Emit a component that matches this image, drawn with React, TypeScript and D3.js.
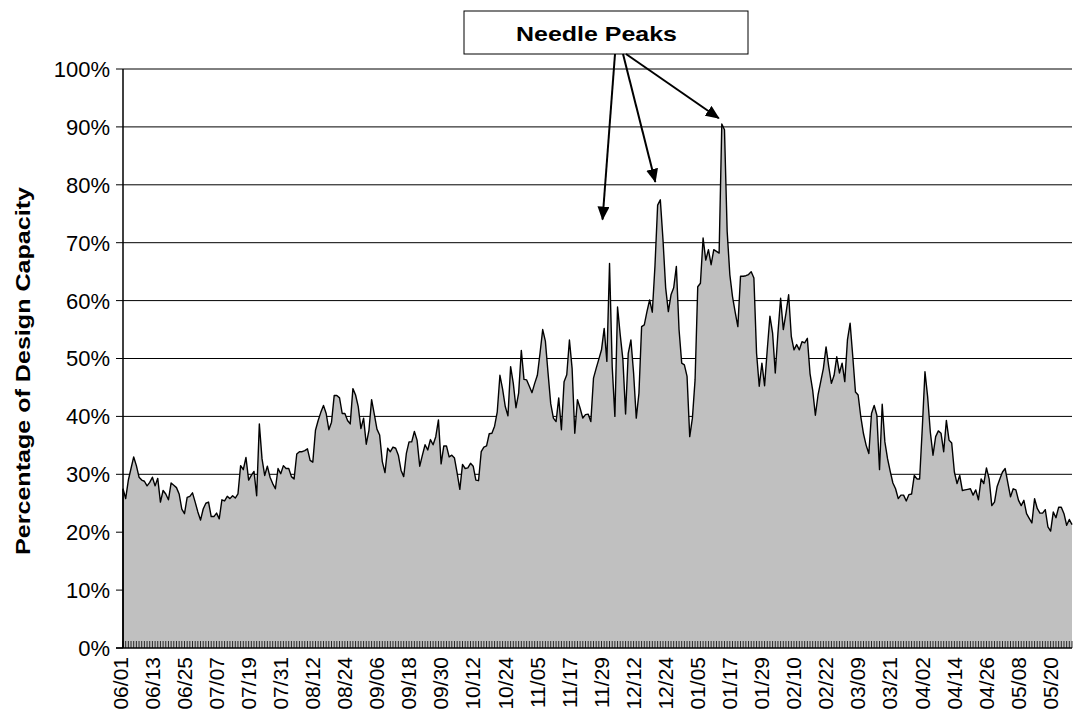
import React from "react";
import * as d3 from "d3";

const tickLabels = [
  "06/01", "06/13", "06/25", "07/07", "07/19", "07/31", "08/12", "08/24", "09/06", "09/18",
  "09/30", "10/12", "10/24", "11/05", "11/17", "11/29", "12/12", "12/24", "01/05", "01/17",
  "01/29", "02/10", "02/22", "03/09", "03/21", "04/02", "04/14", "04/26", "05/08", "05/20",
];
const labelEvery = 12;

// daily percentage of design capacity (356 days)
const capacity = [
  27.5, 25.8, 29.0, 31.0, 33.0, 31.5, 29.5, 29.0, 28.8, 28.0,
  28.6, 29.5, 28.0, 29.3, 25.2, 27.2, 26.6, 25.6, 28.5, 28.1,
  27.7, 26.6, 24.0, 23.2, 26.0, 26.2, 26.8, 25.2, 23.5, 22.1,
  24.0, 25.0, 25.2, 22.7, 22.7, 23.3, 22.3, 25.6, 25.4, 26.2,
  25.8, 26.3, 25.9, 26.6, 31.5, 30.8, 32.9, 29.0, 29.8, 30.5,
  26.3, 38.7, 32.7, 29.8, 31.4, 29.5, 28.4, 27.5, 31.0, 30.1,
  31.5, 31.0, 31.0, 29.6, 29.2, 33.5, 33.9, 33.9, 34.1, 34.4,
  32.4, 32.1, 37.6, 39.3, 40.7, 41.9, 40.5, 37.7, 39.0, 43.6,
  43.6, 43.2, 40.5, 40.5, 39.3, 38.7, 44.8, 43.7, 41.7, 37.9,
  39.7, 35.2, 37.6, 42.9, 40.4, 37.8, 36.8, 32.2, 30.3, 34.5,
  33.9, 34.7, 34.5, 33.3, 30.7, 29.6, 33.6, 35.6, 35.6, 37.4,
  35.9, 31.4, 33.3, 35.1, 34.2, 36.0, 35.1, 36.5, 39.4, 31.8,
  34.9, 34.9, 33.0, 33.3, 32.8, 30.2, 27.4, 31.7, 31.0, 31.1,
  31.9, 31.4, 29.0, 28.9, 33.9, 34.7, 34.9, 37.0, 37.1, 38.3,
  40.8, 47.1, 44.7, 41.7, 40.1, 48.6, 45.7, 41.5, 44.0, 51.4,
  46.4, 46.3, 45.2, 44.1, 45.7, 47.1, 50.9, 55.0, 53.0, 47.5,
  42.2, 39.7, 39.1, 43.2, 37.7, 46.0, 47.2, 53.2, 48.3, 37.1,
  42.9, 41.4, 39.7, 40.3, 40.4, 39.1, 46.6, 48.3, 49.9, 51.5,
  55.2, 49.5, 66.4, 48.6, 40.0, 58.9, 54.1, 49.8, 40.4, 50.9,
  53.2, 47.5, 39.7, 44.0, 55.5, 55.8, 58.1, 60.1, 58.0, 66.0,
  76.5, 77.4, 70.5, 62.2, 58.1, 61.0, 62.2, 65.9, 55.0, 49.2,
  48.9, 46.9, 36.5, 39.7, 46.3, 62.4, 63.0, 70.8, 67.0, 68.8,
  66.2, 68.8, 68.5, 68.2, 90.5, 89.5, 72.0, 64.5, 60.7, 58.0,
  55.5, 64.2, 64.2, 64.3, 64.5, 65.0, 63.9, 50.9, 45.2, 49.2,
  45.3, 51.5, 57.3, 54.4, 47.5, 54.4, 60.4, 55.0, 57.8, 61.0,
  53.8, 51.5, 52.4, 51.5, 52.9, 52.7, 53.5, 47.4, 44.5, 40.2,
  43.7, 46.0, 48.3, 52.0, 48.6, 45.7, 47.1, 50.3, 47.5, 49.2,
  46.0, 53.2, 56.1, 50.3, 44.2, 43.7, 39.9, 37.0, 35.0, 33.6,
  40.5, 41.9, 40.2, 30.8, 42.1, 35.6, 32.7, 30.5, 28.5, 27.5,
  25.8, 26.4, 26.4, 25.4, 26.5, 26.6, 29.8, 29.2, 29.2, 38.0,
  47.7, 43.4, 37.3, 33.3, 36.5, 37.5, 37.1, 33.9, 39.3, 35.9,
  35.4, 30.4, 28.4, 29.8, 27.2, 27.3, 27.4, 27.5, 26.4, 27.3,
  25.6, 29.2, 28.4, 31.1, 29.2, 24.6, 25.2, 27.9, 29.2, 30.4,
  31.0, 28.5, 26.1, 27.5, 27.3, 25.5, 24.6, 25.5, 23.2, 22.4,
  21.6, 25.8, 24.1, 23.3, 23.3, 23.9, 20.9, 20.2, 23.5, 22.5,
  24.3, 24.3, 23.2, 21.2, 22.2, 21.3,
];

const yTicks = [0, 10, 20, 30, 40, 50, 60, 70, 80, 90, 100];

// the three annotated peaks (index into capacity) and where each arrow tip sits (%)
const peakIdx = [182, 201, 224];
const arrowTipPct = [74, 80.5, 91.5];

const W = 1073;
const H = 728;
const FONT = "'Liberation Sans', Arial, Helvetica, sans-serif";

export default function App() {
  const x = d3.scaleLinear().domain([0, capacity.length - 1]).range([123, 1072]);
  const y = d3.scaleLinear().domain([0, 100]).range([648, 69]);

  const area = d3
    .area<number>()
    .x((_, i) => x(i))
    .y0(y(0))
    .y1((d) => y(d));
  const line = d3
    .line<number>()
    .x((_, i) => x(i))
    .y((d) => y(d));

  const boxX0 = 464, boxX1 = 748, boxY0 = 11, boxY1 = 54;
  const arrowStarts = [615, 623, 626];
  const arrowDx = [-7, -5, -3];

  return (
    <svg
      width={W}
      height={H}
      style={{ position: "absolute", left: 0, top: 0, background: "#fff" }}
      fontFamily={FONT}
    >
      <defs>
        <marker
          id="arr"
          markerUnits="userSpaceOnUse"
          markerWidth={14}
          markerHeight={12}
          refX={13}
          refY={6}
          orient="auto"
        >
          <path d="M0,0 L14,6 L0,12 Z" fill="#000" />
        </marker>
      </defs>

      {/* gridlines */}
      {yTicks.slice(1).map((t) => (
        <line key={"g" + t} x1={123} x2={1072} y1={y(t)} y2={y(t)} stroke="#000" strokeWidth={1} />
      ))}

      {/* area */}
      <path d={area(capacity) || ""} fill="#c0c0c0" stroke="none" />
      <path d={line(capacity) || ""} fill="none" stroke="#000" strokeWidth={1.4} strokeLinejoin="round" />
      <line x1={x(0)} x2={x(0)} y1={y(0)} y2={y(capacity[0])} stroke="#000" strokeWidth={1.5} />

      {/* category ticks */}
      {capacity.map((_, i) => (
        <line key={"c" + i} x1={x(i)} x2={x(i)} y1={y(0)} y2={y(0) - 7} stroke="#000" strokeWidth={0.8} />
      ))}

      {/* axes */}
      <line x1={123} x2={123} y1={y(100)} y2={y(0)} stroke="#000" strokeWidth={1.5} />
      <line x1={116} x2={1072} y1={y(0)} y2={y(0)} stroke="#000" strokeWidth={1.5} />
      {yTicks.map((t) => (
        <g key={"t" + t}>
          <line x1={116} x2={123} y1={y(t)} y2={y(t)} stroke="#000" strokeWidth={1} />
          <text x={110} y={y(t)} dy="0.36em" textAnchor="end" fontSize={22} fill="#000">
            {t + "%"}
          </text>
        </g>
      ))}

      {/* x labels */}
      {tickLabels.map((lab, k) => {
        const cx = x(k * labelEvery) - 3;
        return (
          <text
            key={lab + k}
            transform={`translate(${cx},657) rotate(-90)`}
            textAnchor="end"
            dy="0.36em"
            fontSize={21}
            fill="#000"
          >
            {lab}
          </text>
        );
      })}

      {/* y title */}
      <text
        transform="translate(22,371) rotate(-90)"
        textAnchor="middle"
        dy="0.36em"
        fontSize={21}
        fontWeight="bold"
        fill="#000"
        textLength={368}
        lengthAdjust="spacingAndGlyphs"
      >
        Percentage of Design Capacity
      </text>

      {/* annotation */}
      <rect x={boxX0} y={boxY0} width={boxX1 - boxX0} height={boxY1 - boxY0} fill="#fff" stroke="#000" strokeWidth={1} />
      <text
        x={516}
        y={41}
        fontSize={21}
        fontWeight="bold"
        fill="#000"
        textLength={161}
        lengthAdjust="spacingAndGlyphs"
      >
        Needle Peaks
      </text>
      {peakIdx.map((p, k) => (
        <line
          key={"a" + k}
          x1={arrowStarts[k]}
          y1={boxY1}
          x2={x(p) + arrowDx[k]}
          y2={y(arrowTipPct[k])}
          stroke="#000"
          strokeWidth={2}
          markerEnd="url(#arr)"
        />
      ))}
    </svg>
  );
}
